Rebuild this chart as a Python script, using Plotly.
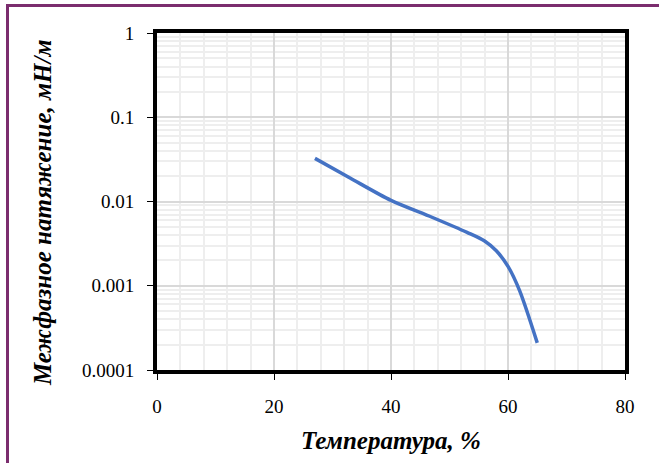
import plotly.graph_objects as go

temperature = [27, 33, 40, 47, 53, 56, 58, 60, 62, 65]
tension = [0.0325, 0.019, 0.0103, 0.0065, 0.0043, 0.0034, 0.0026, 0.0017, 0.00087, 0.00021]

x_ticks = [0, 20, 40, 60, 80]
y_ticks = [1, 0.1, 0.01, 0.001, 0.0001]
y_tick_text = ["1", "0.1", "0.01", "0.001", "0.0001"]

x_title = "Температура, %"
y_title = "Межфазное натяжение, мН/м"

W, H = 659, 463
L, R, T, B = 157, 34, 33, 93
pw, ph = W - L - R, H - T - B

def px(x):
    return (x - L) / pw

def py(y):
    return (H - B - y) / ph

# log minor gridlines 2..9 in every decade
y_minor = [m * 10.0 ** e for e in range(-4, 0) for m in range(2, 10)]

font_family = "Liberation Serif"

fig = go.Figure()
fig.add_trace(go.Scatter(
    x=temperature, y=tension, mode="lines",
    line=dict(color="#4472C4", width=3.5, shape="spline", smoothing=0.8),
    showlegend=False, hoverinfo="skip",
))

fig.update_layout(
    width=W, height=H,
    margin=dict(l=L, r=R, t=T, b=B, autoexpand=False),
    paper_bgcolor="white", plot_bgcolor="white",
    font=dict(family=font_family, size=19, color="black"),
    xaxis=dict(
        range=[0, 80], tickvals=x_ticks, showline=True, linecolor="black", linewidth=4,
        mirror=True, ticks="outside", ticklen=6, tickcolor="black", tickwidth=1,
        ticklabelstandoff=10,
        showgrid=True, gridcolor="#d9d9d9", gridwidth=1.5,
        minor=dict(dtick=4, showgrid=True, gridcolor="#eeeeee", gridwidth=2, ticks=""),
        zeroline=False,
    ),
    yaxis=dict(
        type="log", range=[-4, 0], tickvals=y_ticks, ticktext=y_tick_text,
        showline=True, linecolor="black", linewidth=4, mirror=True,
        ticks="outside", ticklen=6, tickcolor="black", tickwidth=1,
        ticklabelstandoff=9,
        showgrid=True, gridcolor="#d9d9d9", gridwidth=1.5,
        minor=dict(tickvals=y_minor, showgrid=True, gridcolor="#eeeeee", gridwidth=2, ticks=""),
        zeroline=False,
    ),
    annotations=[
        dict(text=f"<b><i>{x_title}</i></b>", xref="paper", yref="paper",
             x=px(391), y=py(440), showarrow=False, xanchor="center", yanchor="middle",
             font=dict(size=25, family=font_family)),
        dict(text=f"<b><i>{y_title}</i></b>", xref="paper", yref="paper",
             x=px(42), y=py(213), showarrow=False, xanchor="center", yanchor="middle",
             textangle=-90, font=dict(size=25, family=font_family)),
    ],
    shapes=[dict(
        type="rect", xref="paper", yref="paper",
        x0=px(7.5), x1=px(700), y0=py(520), y1=py(5.5),
        line=dict(color="#7B2D6E", width=3), fillcolor="rgba(0,0,0,0)", layer="above",
    )],
)

fig.write_html("out.html", config={"displayModeBar": False},
               post_script="document.body.style.margin='0';")
